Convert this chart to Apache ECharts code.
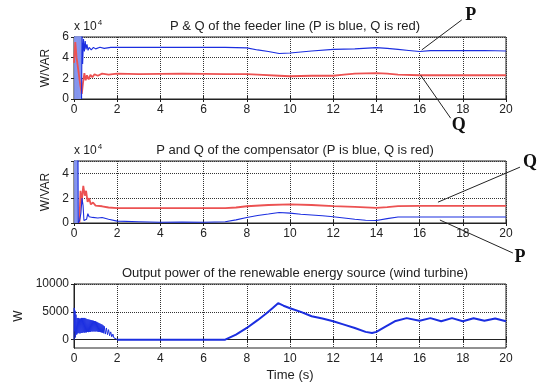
<!DOCTYPE html>
<html>
<head>
<meta charset="utf-8">
<script src="https://cdn.jsdelivr.net/npm/echarts@6/dist/echarts.min.js"></script>
<style>
  html, body { margin: 0; padding: 0; background: #fff; }
  #chart { width: 538px; height: 383px; }
</style>
</head>
<body>
<div id="chart"></div>
<script>
// feeder line, values in x10^4 W/VAR
const feederPBurst = [[0.02,6.5],[0.04,0],[0.06,6.5],[0.08,0],[0.10,6.5],[0.12,0],[0.14,6.5],[0.16,0],[0.18,6.5],[0.20,0],[0.22,6.5],[0.24,0],[0.26,6.5],[0.28,0],[0.30,6.5],[0.32,0],[0.34,6.5]];
const feederP = [[0.35,0],[0.37,6.5],[0.40,3.4],[0.44,5.8],[0.48,4.6],[0.52,5.6],[0.56,4.8],[0.6,5.3],[0.65,4.7],[0.7,5.0],[0.8,4.75],[0.9,5.0],[1.0,4.85],[1.2,5.0],[1.4,4.9],[1.7,5.0],[2,5.0],[3,5.0],[5,5.0],[7,5.0],[8,4.95],[8.5,4.75],[9,4.6],[9.5,4.4],[10,4.45],[10.5,4.55],[11,4.65],[12,4.8],[13,4.85],[14,4.97],[14.5,4.9],[15,4.8],[15.5,4.7],[16,4.6],[16.5,4.68],[17,4.7],[18,4.68],[19,4.7],[20,4.65]];
const feederQ = [[0,3.5],[0.06,5.5],[0.12,4.0],[0.2,2.8],[0.28,1.5],[0.36,0.5],[0.42,1.6],[0.48,2.5],[0.54,1.8],[0.6,2.3],[0.68,1.9],[0.76,2.35],[0.85,2.1],[0.95,2.4],[1.1,2.25],[1.3,2.45],[1.6,2.35],[2,2.45],[3,2.4],[5,2.45],[7,2.4],[8,2.4],[8.5,2.35],[9.5,2.25],[10,2.2],[11,2.25],[12,2.25],[12.5,2.35],[13,2.45],[14,2.5],[14.5,2.45],[15,2.35],[16,2.3],[17,2.3],[18,2.3],[19,2.3],[20,2.3]];

// compensator, values in x10^4 W/VAR
const compPBurst = [[0.02,5.5],[0.04,0],[0.06,5.5],[0.08,0],[0.10,5.5],[0.12,0],[0.14,5.5],[0.16,0],[0.18,5.5]];
const compP = [[0.18,5.5],[0.2,0],[0.26,0.2],[0.32,0.8],[0.37,2.0],[0.42,1.4],[0.46,0.2],[0.52,0.05],[0.58,0.3],[0.64,0.75],[0.7,0.5],[0.78,0.65],[0.86,0.45],[0.95,0.55],[1.1,0.4],[1.3,0.45],[1.6,0.3],[2,0.15],[3,0.1],[4,0.06],[5,0.08],[6,0.06],[7,0.1],[7.5,0.25],[8,0.45],[8.5,0.6],[9,0.72],[9.5,0.85],[10,0.8],[10.5,0.7],[11,0.65],[11.5,0.58],[12,0.5],[12.5,0.4],[13,0.3],[13.5,0.22],[14,0.2],[14.5,0.35],[15,0.48],[16,0.48],[17,0.48],[18,0.48],[19,0.48],[20,0.48]];
const compQ = [[0.25,0],[0.28,0],[0.3,2.6],[0.35,1.6],[0.43,3.0],[0.5,2.2],[0.56,2.6],[0.63,1.7],[0.7,2.0],[0.78,1.5],[0.88,1.65],[1,1.4],[1.3,1.35],[1.6,1.25],[2,1.2],[4,1.2],[6,1.2],[7,1.2],[7.5,1.25],[8,1.35],[9,1.45],[10,1.5],[11,1.45],[12,1.36],[13,1.3],[14,1.22],[14.5,1.28],[15,1.36],[16,1.38],[18,1.38],[20,1.38]];

// wind turbine output, W
const windBurst = [[0,0],[0.01,5700],[0.03,1500],[0.05,5200],[0.07,400],[0.09,4500],[0.10,4000],[0.125,900],[0.15,3900],[0.175,1100],[0.20,3900],[0.225,1200],[0.25,3800],[0.275,1100],[0.30,3800],[0.325,1200],[0.35,3900],[0.375,1200],[0.40,3900],[0.425,1300],[0.45,3900],[0.475,1250],[0.50,3900],[0.525,1300],[0.55,3800],[0.575,1300],[0.60,3700],[0.625,1400],[0.65,3650],[0.675,1350],[0.70,3600],[0.725,1400],[0.75,3550],[0.775,1400],[0.80,3500],[0.825,1500],[0.85,3450],[0.875,1450],[0.90,3400],[0.925,1500],[0.95,3350],[0.975,1450],[1.00,3300],[1.025,1500],[1.05,3200],[1.075,1450],[1.10,3100],[1.125,1400],[1.15,3000],[1.175,1400],[1.20,2900],[1.225,1350],[1.25,2800],[1.275,1300],[1.30,2700],[1.325,1250],[1.35,2550],[1.375,1150],[1.40,2400],[1.45,1000],[1.50,2100],[1.55,900],[1.60,1800],[1.65,700],[1.70,1400],[1.75,500],[1.80,1000],[1.85,300],[1.90,600],[1.95,150],[2.00,0]];
const windPower = [[2,0],[7,0],[7.5,900],[8,2100],[8.5,3500],[8.9,4700],[9.2,5700],[9.45,6550],[9.7,6100],[10,5650],[10.5,5000],[11,4200],[11.5,3800],[12,3300],[12.5,2700],[13,2100],[13.5,1400],[13.8,1200],[14,1400],[14.4,2300],[14.85,3300],[15.4,3870],[16,3400],[16.5,3870],[17,3300],[17.5,3870],[18,3300],[18.5,3850],[19,3400],[19.5,3800],[20,3300]];

const windTicks = [0, 5000, 10000];
const titles = [
  'P & Q of the feeder line (P is blue, Q is red)',
  'P and Q of the compensator (P is blue, Q is red)',
  'Output power of the renewable energy source (wind turbine)'
];

const BLUE = '#1b2ee0';
const LIGHTBLUE = '#8495ee';
const RED = '#ec5252';
const panels = [
  { top: 37, height: 62, min: 0, max: 6, interval: 2, name: 'W/VAR', nameGap: 17 },
  { top: 161, height: 62, min: 0, max: 5, interval: 2, name: 'W/VAR', nameGap: 17 },
  { top: 284, height: 64, min: -1500, max: 10000, ticks: windTicks, name: 'W', nameGap: 42 }
];

const chart = echarts.init(document.getElementById('chart'));
const grid = [], xAxis = [], yAxis = [], title = [];
const labelStyle = { color: '#222', fontSize: 12, fontFamily: 'Liberation Sans' };
const tick = () => ({ show: true, inside: true, length: 3, lineStyle: { color: '#222' } });
const gridLine = () => ({ show: true, lineStyle: { color: '#333', type: 'dotted', width: 1 } });

panels.forEach((p, i) => {
  grid.push({ left: 74, top: p.top, width: 432, height: p.height, show: true, borderColor: '#222', borderWidth: 1 });
  title.push({
    text: titles[i], left: 290, top: p.top - 22, textAlign: 'center',
    textStyle: { fontSize: 13, fontWeight: 'normal', color: '#222', fontFamily: 'Liberation Sans' }
  });
  xAxis.push({
    type: 'value', gridIndex: i, min: 0, max: 20, interval: 2,
    axisLine: { lineStyle: { color: '#222' } }, axisTick: tick(),
    axisLabel: Object.assign({ margin: 5 }, labelStyle), splitLine: gridLine(),
    name: i === 2 ? 'Time (s)' : '', nameLocation: 'middle', nameGap: 21,
    nameTextStyle: Object.assign({}, labelStyle, { fontSize: 13 })
  });
  xAxis.push({
    type: 'value', gridIndex: i, min: 0, max: 20, interval: 2, position: 'top',
    axisLine: { lineStyle: { color: '#222' } }, axisTick: tick(),
    axisLabel: { show: false }, splitLine: { show: false }
  });
  const yl = {
    type: 'value', gridIndex: i, min: p.min, max: p.max,
    axisLine: { show: true, lineStyle: { color: '#222' } }, axisTick: tick(),
    axisLabel: Object.assign({ margin: 5, showMaxLabel: i !== 1, formatter: v => String(v) }, labelStyle),
    splitLine: gridLine(),
    name: p.name, nameLocation: 'middle', nameRotate: 90, nameGap: p.nameGap,
    nameTextStyle: labelStyle
  };
  const yr = {
    type: 'value', gridIndex: i, min: p.min, max: p.max, position: 'right',
    axisLine: { show: true, lineStyle: { color: '#222' } }, axisTick: tick(),
    axisLabel: { show: false }, splitLine: { show: false }
  };
  if (p.ticks) {
    yl.axisLabel.customValues = p.ticks;
    yl.axisTick.customValues = p.ticks;
    yr.axisTick.customValues = p.ticks;
  } else {
    yl.interval = p.interval;
    yr.interval = p.interval;
  }
  yAxis.push(yl, yr);
});

function line(data, idx, color, width, z) {
  return {
    type: 'line', data: data, xAxisIndex: idx * 2, yAxisIndex: idx * 2,
    showSymbol: false, symbol: 'none', clip: true, z: z || 2,
    lineStyle: { color: color, width: width }
  };
}

chart.setOption({
  animation: false,
  title: title,
  grid: grid,
  xAxis: xAxis,
  yAxis: yAxis,
  series: [
    line(feederPBurst, 0, LIGHTBLUE, 1),
    line(feederQ, 0, RED, 1.8, 3),
    line(feederP, 0, BLUE, 1.1, 4),
    line(compPBurst, 1, LIGHTBLUE, 1),
    line(compQ, 1, RED, 1.8, 3),
    line(compP, 1, BLUE, 1.1, 4),
    line(windBurst, 2, BLUE, 1),
    line(windPower, 2, BLUE, 2)
  ]
});

// annotations: anchored on the data, label ends offset in pixels
const notes = [
  { text: 'P', grid: 0, at: [16.1, 4.75], end: [40, -30], label: [49, -35] },
  { text: 'Q', grid: 0, at: [16.05, 2.3], end: [30, 43], label: [38, 50] },
  { text: 'Q', grid: 1, at: [16.85, 1.68], end: [82, -35], label: [92, -40] },
  { text: 'P', grid: 1, at: [16.94, 0.24], end: [73, 33], label: [80, 37] }
];
const graphic = [];
notes.forEach(n => {
  const pt = chart.convertToPixel({ gridIndex: n.grid }, n.at);
  graphic.push({
    type: 'line', shape: { x1: pt[0], y1: pt[1], x2: pt[0] + n.end[0], y2: pt[1] + n.end[1] },
    style: { stroke: '#222', lineWidth: 1 }, z: 10
  });
  graphic.push({
    type: 'text', x: pt[0] + n.label[0], y: pt[1] + n.label[1], z: 10,
    style: { text: n.text, fill: '#111', font: 'bold 18px "Liberation Serif"', align: 'center', verticalAlign: 'middle' }
  });
});
[0, 1].forEach(i => {
  graphic.push({
    type: 'text', x: 74, y: panels[i].top - 10, z: 10,
    style: {
      text: 'x 10{s|4}', fill: '#222', font: '12px "Liberation Sans"', verticalAlign: 'middle',
      rich: { s: { fontSize: 8, verticalAlign: 'top', padding: [0, 0, 8, 1], fill: '#222', fontFamily: 'Liberation Sans' } }
    }
  });
});
chart.setOption({ graphic: graphic });
</script>
</body>
</html>
